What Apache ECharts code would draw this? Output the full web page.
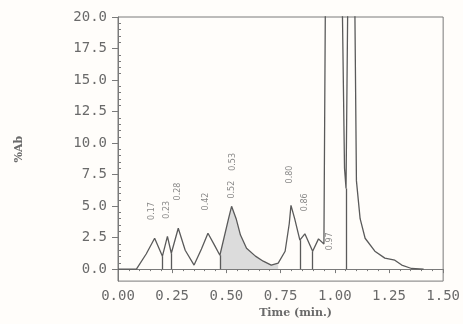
<!DOCTYPE html>
<html>
<head>
<meta charset="utf-8">
<script src="https://cdn.jsdelivr.net/npm/echarts@6/dist/echarts.min.js"></script>
<style>
html,body{margin:0;padding:0;background:#fffdfa;}
#chart{width:463px;height:324px;}
</style>
</head>
<body>
<div id="chart"></div>
<script>
// Chromatogram trace (time in min, %Ab)
const traceTimes = [0.00,0.085,0.13,0.169,0.205,0.228,0.246,0.278,0.31,0.351,0.385,0.415,0.445,0.470,0.51,0.524,0.545,0.565,0.593,0.634,0.670,0.707,0.739,0.771,0.790,0.798,0.815,0.839,0.862,0.898,0.925,0.950,0.958,0.995,1.034,1.045,1.052,1.062,1.080,1.092,1.100,1.117,1.140,1.185,1.231,1.277,1.309,1.354,1.41];
const traceValues = [0,0,1.2,2.45,1.03,2.6,1.26,3.24,1.5,0.32,1.6,2.85,1.9,1.1,4.0,4.98,4.0,2.7,1.66,1.03,0.63,0.32,0.47,1.42,3.6,5.06,4.0,2.3,2.8,1.42,2.4,2.0,25,150,22,8,6.4,25,150,22,7,4.0,2.45,1.42,0.87,0.71,0.32,0.05,0];
// shaded integration region (time range)
const shadeStart = 0.470, shadeEnd = 0.739;
// drop lines from valleys to baseline
const dropTimes = [0.205,0.246,0.470,0.839,0.898,1.052];
const dropValues = [1.03,1.26,1.1,2.3,1.42,6.4];
// peak annotations
const labelTimes = [0.158,0.228,0.278,0.406,0.524,0.528,0.793,0.862,0.976];
const labelLevels = [3.9,4.0,5.45,4.66,5.6,7.8,6.8,4.6,1.5];
const labelTexts = ['0.17','0.23','0.28','0.42','0.52','0.53','0.80','0.86','0.97'];
// axes
const xTicks = [0,0.25,0.5,0.75,1.0,1.25,1.5];
const yTicks = [0,2.5,5,7.5,10,12.5,15,17.5,20];
const yMinorTicks = [0.5,1,1.5,2,3,3.5,4,4.5,5.5,6,6.5,7,8,8.5,9,9.5,10.5,11,11.5,12,13,13.5,14,14.5,15.5,16,16.5,17,18,18.5,19,19.5];

const trace = traceTimes.map((t,i)=>[t,traceValues[i]]);
const shade = trace.filter(p=>p[0]>=shadeStart && p[0]<=shadeEnd);
const labelData = labelTimes.map((t,i)=>({value:[t,labelLevels[i]], name:labelTexts[i]}));

const axisColor = '#7a7a7a';
const textColor = '#6a6a6a';
const chart = echarts.init(document.getElementById('chart'));
chart.setOption({
  backgroundColor:'#fffdfa',
  animation:false,
  grid:{left:118,right:16,top:17,bottom:41,show:true,borderColor:axisColor,borderWidth:1,backgroundColor:'transparent'},
  xAxis:{
    type:'value',min:0,max:1.5,interval:0.25,
    name:'Time (min.)',nameLocation:'middle',nameGap:25,
    nameTextStyle:{fontFamily:'DejaVu Serif',fontWeight:'bold',fontSize:11,color:textColor,padding:[0,0,0,30]},
    axisLine:{show:true,lineStyle:{color:axisColor}},
    axisTick:{show:true,length:4,lineStyle:{color:axisColor}},
    minorTick:{show:true,splitNumber:5,length:2,lineStyle:{color:axisColor}},
    splitLine:{show:false},
    axisLabel:{margin:8,fontFamily:'DejaVu Sans Mono',fontSize:14,color:textColor,formatter:v=>v.toFixed(2)}
  },
  yAxis:[{
    type:'value',min:-0.95,max:20,
    name:'%Ab',nameLocation:'middle',nameGap:93,nameRotate:90,
    nameTextStyle:{fontFamily:'DejaVu Serif',fontWeight:'bold',fontSize:11,color:textColor},
    axisLine:{show:true,lineStyle:{color:axisColor}},
    axisTick:{show:true,length:6,customValues:yTicks,lineStyle:{color:axisColor}},
    splitLine:{show:false},
    axisLabel:{margin:11,customValues:yTicks,fontFamily:'DejaVu Sans Mono',fontSize:14,color:textColor,formatter:v=>v.toFixed(1)}
  },{
    type:'value',min:-0.95,max:20,position:'left',
    axisLine:{show:false},
    axisTick:{show:true,inside:true,length:3,customValues:yMinorTicks,lineStyle:{color:axisColor}},
    axisLabel:{show:false},
    splitLine:{show:false}
  }],
  series:[{
    type:'line',data:shade,symbol:'none',silent:true,
    lineStyle:{width:0},areaStyle:{color:'#d6d6d6',opacity:0.85},z:1
  },{
    type:'line',data:trace,symbol:'none',
    lineStyle:{color:'#5a5a5a',width:1.3},z:3,
    markLine:{symbol:'none',silent:true,label:{show:false},
      lineStyle:{color:'#5a5a5a',type:'solid',width:1.3},
      data:dropTimes.map((t,i)=>[{coord:[t,0]},{coord:[t,dropValues[i]]}])}
  },{
    type:'scatter',data:labelData,symbolSize:0,silent:true,z:4,
    label:{show:true,position:'inside',rotate:90,align:'left',verticalAlign:'middle',
      fontFamily:'DejaVu Sans',fontSize:8,color:textColor,formatter:p=>p.name}
  }]
});
</script>
</body>
</html>
